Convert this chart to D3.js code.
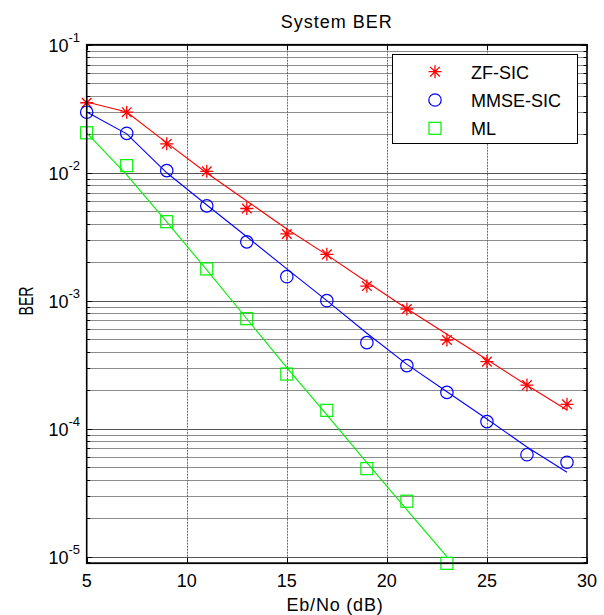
<!DOCTYPE html>
<html><head><meta charset="utf-8">
<script src="https://cdn.jsdelivr.net/npm/d3@7"></script>
<style>html,body{margin:0;padding:0;background:#fff}svg{display:block}text{font-family:Arial,"Liberation Sans",sans-serif;fill:#000}</style>
</head><body><svg id="c" width="604" height="615"></svg>
<script>
const ebNo = [5,7,9,11,13,15,17,19,21,23,25,27,29];
const zfSicBer = [0.0352,0.0297,0.0168,0.01025,0.00525,0.00332,0.00230,0.00130,0.000861,0.000493,0.000334,0.000219,0.000155];
const zfSicFit = [0.0357,0.0298,0.0171,0.00995,0.00601,0.00363,0.00228,0.00140,0.000864,0.000547,0.000347,0.000218,0.000140];
const mmseSicBer = [0.0297,0.0203,0.01037,0.0055,0.00288,0.00154,0.00100,0.00047,0.000311,0.000192,0.0001135,0.0000626,0.0000546];
const mmseSicFit = [0.0298,0.0201,0.00998,0.00559,0.00316,0.00177,0.00100,0.000556,0.000318,0.000194,0.000119,0.0000718,0.0000456];
const mlEbNo = [5,7,9,11,13,15,17,19,21,23];
const mlBer = [0.0205,0.01135,0.00414,0.00177,0.000723,0.000267,0.000139,0.0000487,0.0000271,0.00000887];
const mlFit = [0.0205,0.0096,0.00412,0.00174,0.000722,0.000300,0.000128,0.0000543,0.0000232,0.0000100];
const xTicks = [5,10,15,20,25,30];
const yExponents = [-1,-2,-3,-4,-5];
const legendLabels = ["ZF-SIC","MMSE-SIC","ML"];
const titleText = "System BER", xLabel = "Eb/No (dB)", yLabel = "BER";

const L=86.7,R=587,T=44.7,B=563.3;
const svg = d3.select("#c");
const x = d3.scaleLinear().domain([5,30]).range([L,R]);
const y = d3.scaleLog().domain([d3.min(mlBer),0.1]).range([B,T]);
const [y0,y1]=y.domain();

// minor values
const minors=[];
yExponents.concat([-6]).forEach(e=>{for(let k=2;k<=9;k++){const v=k*Math.pow(10,e);if(v>=y0&&v<=y1)minors.push(v);}});
const majors=yExponents.map(e=>Math.pow(10,e));

const g=svg.append("g");
// grid
g.selectAll(".hmin").data(minors).join("line").attr("x1",L).attr("x2",R)
 .attr("y1",d=>Math.round(y(d))+0.5).attr("y2",d=>Math.round(y(d))+0.5)
 .attr("stroke","#8c8c8c").attr("stroke-width",1);
g.selectAll(".hmaj").data(majors).join("line").attr("x1",L).attr("x2",R)
 .attr("y1",d=>Math.round(y(d))+0.5).attr("y2",d=>Math.round(y(d))+0.5)
 .attr("stroke","#555").attr("stroke-width",1);
g.selectAll(".vg").data(xTicks.slice(1,-1)).join("line")
 .attr("x1",d=>Math.round(x(d))+0.5).attr("x2",d=>Math.round(x(d))+0.5).attr("y1",T).attr("y2",B)
 .attr("stroke","#6a6a6a").attr("stroke-width",1).attr("stroke-dasharray","2,1");

// ticks
const tk=svg.append("g").attr("stroke","#000").attr("stroke-width",1);
minors.forEach(v=>{const yy=Math.round(y(v))+0.5;
 tk.append("line").attr("x1",L).attr("x2",L+3.5).attr("y1",yy).attr("y2",yy);
 tk.append("line").attr("x1",R).attr("x2",R-3.5).attr("y1",yy).attr("y2",yy);});
majors.forEach(v=>{const yy=Math.round(y(v))+0.5;
 tk.append("line").attr("x1",L).attr("x2",L+5.5).attr("y1",yy).attr("y2",yy);
 tk.append("line").attr("x1",R).attr("x2",R-5.5).attr("y1",yy).attr("y2",yy);});
xTicks.forEach(v=>{const xx=Math.round(x(v))+0.5;
 tk.append("line").attr("x1",xx).attr("x2",xx).attr("y1",B).attr("y2",B-5.5);
 tk.append("line").attr("x1",xx).attr("x2",xx).attr("y1",T).attr("y2",T+5.5);});

// lines
const line=d3.line().x(d=>x(d[0])).y(d=>y(d[1]));
const series=[
 {xs:ebNo,fit:zfSicFit,pts:zfSicBer,color:"#ff0000",m:"star"},
 {xs:ebNo,fit:mmseSicFit,pts:mmseSicBer,color:"#0000ff",m:"circle"},
 {xs:mlEbNo,fit:mlFit,pts:mlBer,color:"#00ee00",m:"square"}];
series.forEach(s=>{
 svg.append("path").attr("d",line(s.xs.map((v,i)=>[v,s.fit[i]]))).attr("fill","none").attr("stroke",s.color).attr("stroke-width",1.1);
});
function marker(sel,type,color){
 if(type==="star"){
  const a=6.5,b=4.8;
  sel.append("path").attr("d",`M${-a},0H${a}M0,${-a}V${a}M${-b},${-b}L${b},${b}M${-b},${b}L${b},${-b}`)
   .attr("stroke",color).attr("stroke-width",1.3).attr("fill","none");
 } else if(type==="circle"){
  sel.append("circle").attr("r",6.2).attr("fill","none").attr("stroke",color).attr("stroke-width",1.2);
 } else {
  sel.append("rect").attr("x",-6).attr("y",-6).attr("width",12).attr("height",12).attr("fill","none").attr("stroke",color).attr("stroke-width",1.2);
 }
}
series.forEach(s=>{
 s.xs.forEach((v,i)=>{const mg=svg.append("g").attr("transform",`translate(${x(v)},${y(s.pts[i])})`);marker(mg,s.m,s.color);});
});

// axes box
svg.append("rect").attr("x",L).attr("y",T).attr("width",R-L).attr("height",B-T).attr("fill","none").attr("stroke","#000").attr("stroke-width",1.6);

// tick labels
xTicks.forEach(v=>svg.append("text").attr("x",x(v)).attr("y",587).attr("text-anchor","middle").attr("font-size",18).text(v));
yExponents.forEach(e=>{
 const t=svg.append("text").attr("x",80).attr("y",y(Math.pow(10,e))+7).attr("text-anchor","end").attr("font-size",18);
 t.append("tspan").text("10");
 t.append("tspan").attr("dy",-9.5).attr("font-size",13).text(String(e).replace("-","-"));
});

// title & labels
svg.append("text").attr("x",(L+R)/2).attr("y",28).attr("text-anchor","middle").attr("font-size",18).attr("letter-spacing",1).text(titleText);
svg.append("text").attr("x",335).attr("y",611).attr("text-anchor","middle").attr("font-size",18).attr("letter-spacing",0.8).text(xLabel);
svg.append("text").attr("transform","translate(32.5,301) rotate(-90)").attr("text-anchor","middle").attr("font-size",21)
 .attr("textLength",29).attr("lengthAdjust","spacingAndGlyphs").text(yLabel);

// legend
const lg=svg.append("g");
lg.append("rect").attr("x",392.5).attr("y",54.5).attr("width",185).attr("height",89).attr("fill","#fff").attr("stroke","#000").attr("stroke-width",1);
const ly=[71.7,100,128.3];
series.forEach((s,i)=>{
 const mg=lg.append("g").attr("transform",`translate(435,${ly[i]})`);marker(mg,s.m,s.color);
 lg.append("text").attr("x",471).attr("y",ly[i]+7).attr("font-size",18).text(legendLabels[i]);
});
</script></body></html>
